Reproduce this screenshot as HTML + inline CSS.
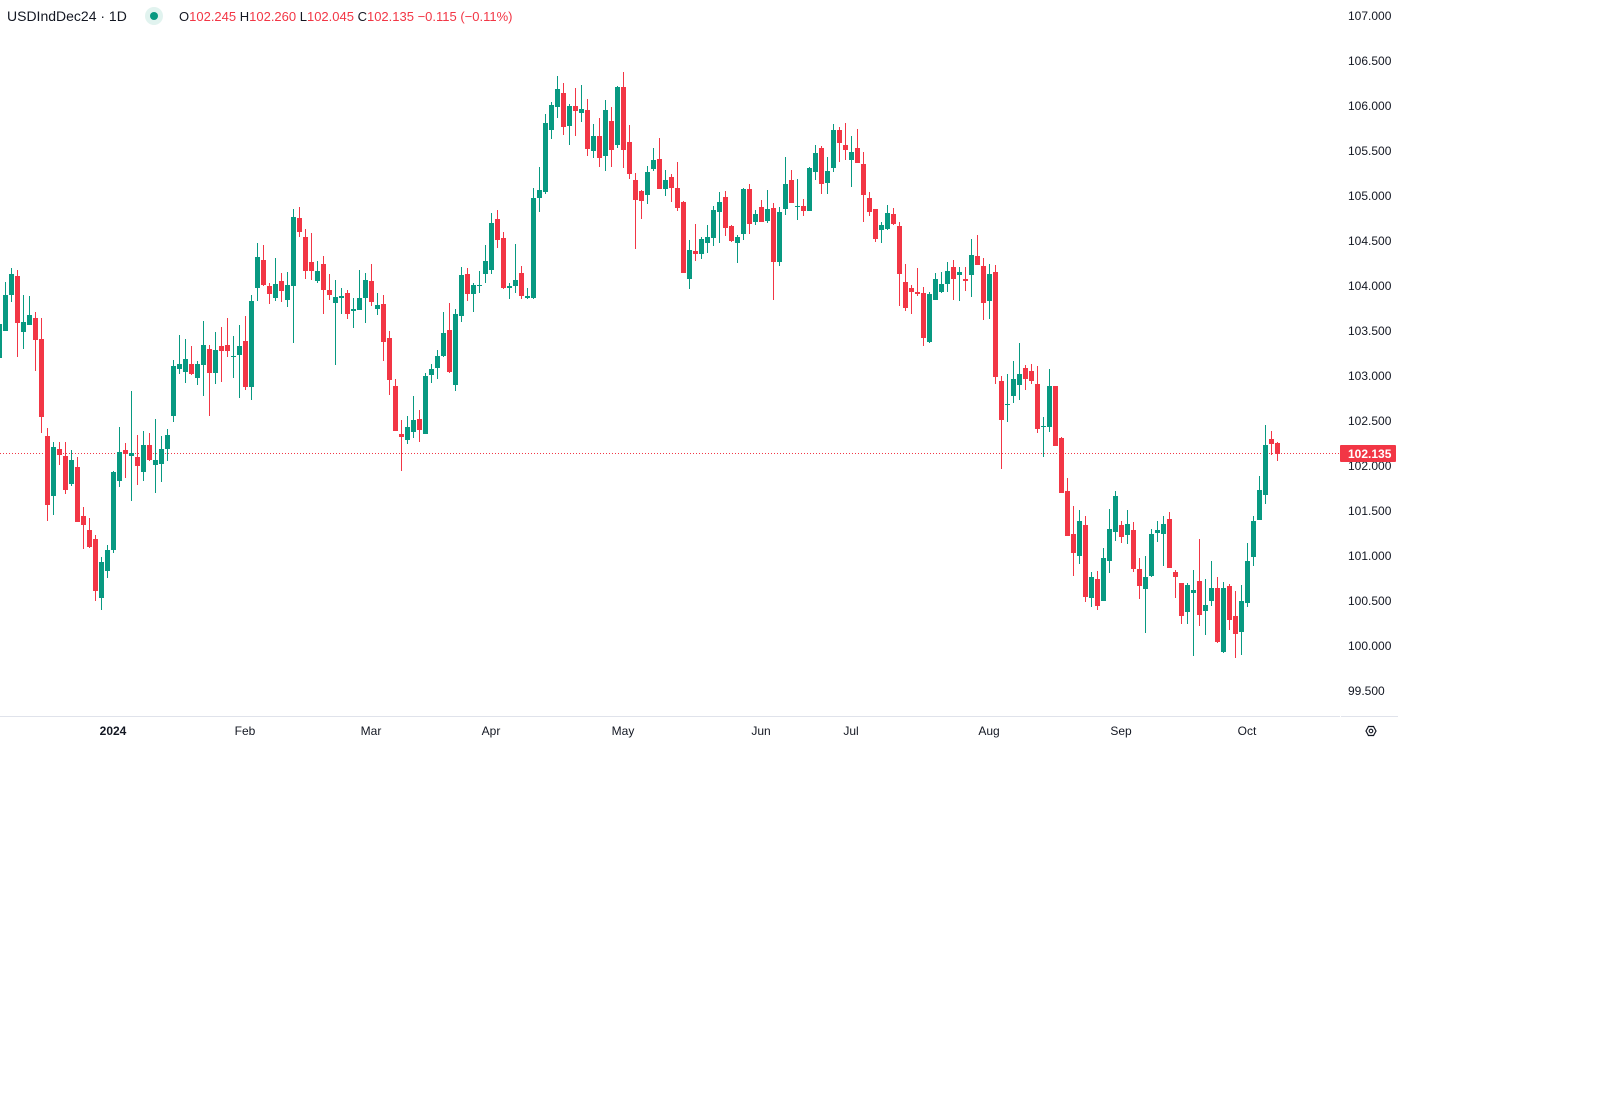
<!DOCTYPE html>
<html><head><meta charset="utf-8">
<style>
html,body{margin:0;padding:0;background:#fff;width:1611px;height:1100px;overflow:hidden}
svg{display:block}
text{font-family:"Liberation Sans",sans-serif}
</style></head>
<body>
<svg id="s" width="1611" height="1100" xmlns="http://www.w3.org/2000/svg">
<rect width="1611" height="1100" fill="#fff"/>
<line x1="0" y1="716.5" x2="1340" y2="716.5" stroke="#e0e3eb" stroke-width="1"/>
<line x1="1341" y1="716.5" x2="1398" y2="716.5" stroke="#e0e3eb" stroke-width="1"/>
<line x1="0" y1="453.5" x2="1340" y2="453.5" stroke="#f23645" stroke-width="1" stroke-dasharray="1,2"/>
<g id="c"></g>
<g font-size="12" fill="#131722">
<text x="1348" y="20">107.000</text>
<text x="1348" y="65">106.500</text>
<text x="1348" y="110">106.000</text>
<text x="1348" y="155">105.500</text>
<text x="1348" y="200">105.000</text>
<text x="1348" y="245">104.500</text>
<text x="1348" y="290">104.000</text>
<text x="1348" y="335">103.500</text>
<text x="1348" y="380">103.000</text>
<text x="1348" y="425">102.500</text>
<text x="1348" y="470">102.000</text>
<text x="1348" y="515">101.500</text>
<text x="1348" y="560">101.000</text>
<text x="1348" y="605">100.500</text>
<text x="1348" y="650">100.000</text>
<text x="1348" y="695">99.500</text>
</g>
<rect x="1340" y="445" width="56" height="17" rx="1" fill="#f23645"/>
<text x="1348" y="458" font-size="12" font-weight="bold" fill="#fff">102.135</text>
<g font-size="12" fill="#131722" text-anchor="middle">
<text x="113" y="735" font-weight="bold">2024</text>
<text x="245" y="735">Feb</text>
<text x="371" y="735">Mar</text>
<text x="491" y="735">Apr</text>
<text x="623" y="735">May</text>
<text x="761" y="735">Jun</text>
<text x="851" y="735">Jul</text>
<text x="989" y="735">Aug</text>
<text x="1121" y="735">Sep</text>
<text x="1247" y="735">Oct</text>
</g>
<polygon points="1366,731 1368.5,726.5 1373.5,726.5 1376,731 1373.5,735.5 1368.5,735.5" fill="none" stroke="#131722" stroke-width="1.2"/>
<circle cx="1371" cy="731" r="1.8" fill="none" stroke="#131722" stroke-width="1.1"/>
<text x="7" y="21" font-size="14" fill="#131722">USDIndDec24 · 1D</text>
<circle cx="154" cy="16" r="9" fill="#e1f3ef"/>
<circle cx="154" cy="16" r="4" fill="#089981"/>
<text x="179" y="21" font-size="13" fill="#f23645"><tspan fill="#131722">O</tspan>102.245 <tspan fill="#131722">H</tspan>102.260 <tspan fill="#131722">L</tspan>102.045 <tspan fill="#131722">C</tspan>102.135 −0.115 (−0.11%)</text>
</svg>
<script>
var d="G320,324,358,362;G282,295,331,331;G268,274,295,302;R270,276,323,357;G295,322,332,349;G296,315,325,325;R312,318,340,371;R318,339,417,433;R428,436,505,521;G442,447,496,515;R442,449,455,465;R442,456,490,494;G450,460,484,486;R457,467,522,522;R507,516,525,549;R518,530,547,548;R535,539,591,601;G557,562,598,610;G545,550,571,578;G471,472,550,553;G427,452,481,487;R443,450,454,478;G391,453,456,501;R435,457,466,485;G431,445,472,481;R433,445,460,461;G419,460,465,493;G436,449,464,482;G429,435,449,461;G360,366,416,422;G335,364,369,374;G339,359,372,383;R346,364,374,375;G361,364,378,385;G321,345,365,396;R345,349,373,416;G332,350,373,384;R327,346,351,382;R318,345,351,357;G336,356,357,378;G325,346,355,398;R316,341,387,390;G295,301,387,400;G243,257,288,301;"+
"R245,260,285,286;R283,286,294,304;G258,284,298,301;R273,281,291,302;G272,285,300,307;G209,217,286,343;R207,218,232,237;R229,237,271,279;R233,262,271,280;G261,271,281,283;R256,264,290,314;R274,290,295,300;G280,297,303,365;G288,296,298,314;R290,293,314,319;G298,309,311,328;G270,298,310,310;G273,280,298,323;R264,281,302,306;G293,305,309,315;R295,304,342,361;R331,338,380,395;R379,386,431,431;R420,434,437,471;G416,427,440,444;G396,420,432,438;R410,419,430,442;G373,376,434,434;G364,369,375,383;G350,356,368,379;G312,333,356,357;R303,330,372,373;G309,314,385,391;G267,275,316,322;R268,274,294,301;G283,285,294,312;G271,285,286,293;G245,261,274,283;G213,223,270,274;R210,219,240,248;R232,238,288,289;"+
"G283,286,288,299;G244,280,286,293;R266,273,296,299;G288,296,298,299;G188,198,298,299;G167,190,198,212;G114,123,192,194;G102,105,130,139;G76,89,107,118;R83,93,127,135;G104,106,126,145;R88,106,111,136;G85,109,113,122;R99,110,149,156;G124,136,151,158;R118,136,158,167;G100,110,156,171;R107,121,150,167;G86,87,145,148;R72,87,150,168;R125,142,174,179;R173,180,200,249;R190,191,201,219;G166,172,195,204;G148,160,169,171;R138,159,189,189;G170,180,189,196;R174,177,188,202;R162,188,208,211;R201,202,273,273;G240,250,279,289;R224,251,254,261;G237,239,254,259;G225,237,243,253;G206,210,238,246;G192,202,212,243;R191,197,228,236;R225,226,241,242;G235,237,243,263;G188,189,234,240;R184,189,224,234;G210,214,222,225;"+
"R200,207,222,222;G190,209,221,223;R203,208,262,300;G207,212,262,266;G157,184,209,215;R170,180,203,203;G179,206,207,220;R199,206,211,216;G167,168,211,211;G145,153,172,180;R146,148,184,194;G157,171,183,194;G124,130,168,172;R127,130,143,162;R123,145,150,160;G136,152,160,187;R129,148,163,163;R152,164,195,222;R192,198,212,216;R209,209,239,242;G222,225,230,243;G205,213,229,230;R208,214,224,225;R222,226,274,306;R264,282,308,311;R285,288,292,314;R268,292,294,296;R287,293,338,346;G292,294,342,343;G273,279,300,300;G272,284,292,293;G262,271,284,292;R260,267,279,300;G267,272,275,301;R267,279,281,291;G239,255,275,297;R235,256,265,265;R258,266,303,320;G264,274,301,319;R265,272,377,384;"+
"R376,381,420,469;G374,404,405,422;G361,379,396,403;G343,374,385,400;R365,368,379,390;R364,371,381,384;R366,384,429,433;G417,426,427,457;G369,386,427,432;R386,386,446,446;R437,438,493,493;R478,491,536,536;R506,534,553,576;G510,521,556,564;R516,525,597,602;G572,577,598,607;R571,579,606,610;G548,558,601,601;G509,529,561,573;G491,496,532,541;R521,525,537,543;G510,524,535,544;R522,530,569,572;R558,569,586,599;G556,577,589,633;G529,534,576,577;G521,530,533,542;G516,524,534,566;R512,519,568,568;R570,572,577,598;R583,583,616,624;G583,585,612,624;G570,590,593,656;R539,581,615,626;G579,605,611,635;G561,588,601,606;R577,588,642,643;"+
"G582,588,652,653;R584,586,620,630;R591,616,634,658;G585,601,632,655;G543,561,603,607;G516,521,557,566;G476,490,520,520;G425,445,495,504;R431,439,444,455;R442,443,454,461";
var g=document.getElementById("c"),h="";
d.split(";").forEach(function(s,i){
 var c=s[0]=="G"?"#089981":"#f23645",v=s.slice(1).split(",").map(Number),x=6*i-1;
 var bt=v[1],bb=Math.max(v[2],v[1]+1);
 h+='<rect x="'+x+'" y="'+v[0]+'" width="1" height="'+(v[3]-v[0])+'" fill="'+c+'"/>';
 h+='<rect x="'+(x-2)+'" y="'+bt+'" width="5" height="'+(bb-bt)+'" fill="'+c+'"/>';
});
g.innerHTML=h;
</script>
</body></html>
